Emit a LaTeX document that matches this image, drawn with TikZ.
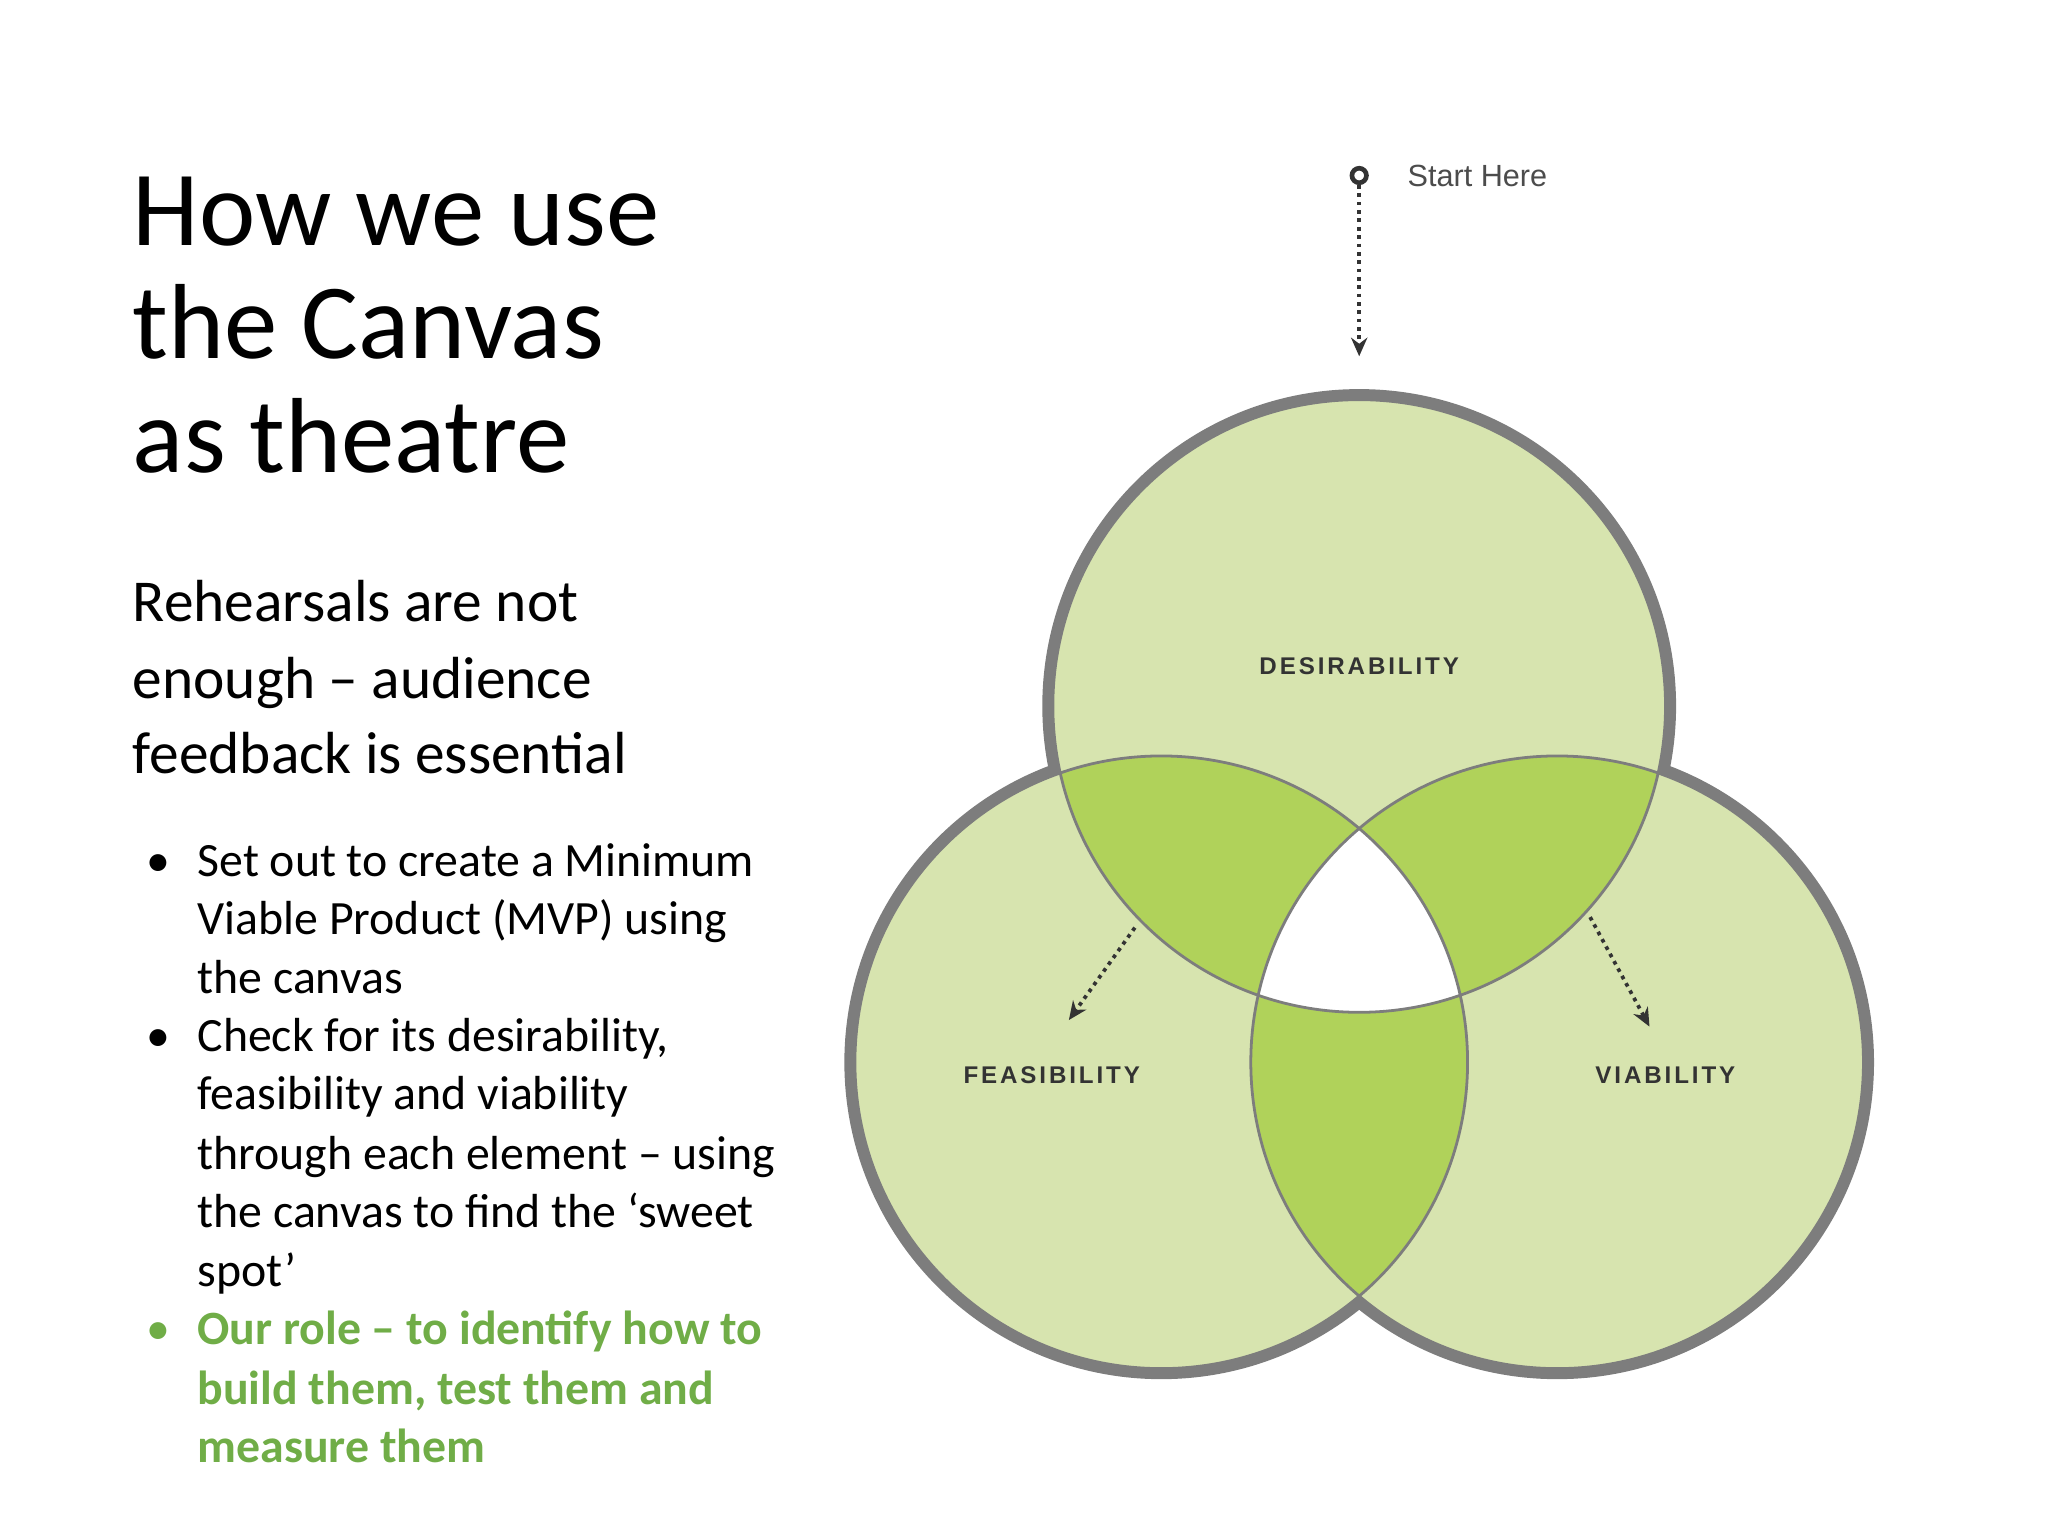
\documentclass[tikz,border=0pt]{standalone}
\usepackage{fontspec}
\setmainfont{Carlito}
\newfontfamily\lab[LetterSpace=12]{Liberation Sans Bold}
\newfontfamily\lsans{Liberation Sans}
\usetikzlibrary{arrows.meta}
\definecolor{lgreen}{RGB}{215,228,175}
\definecolor{dgreen}{RGB}{176,210,90}
\definecolor{ring}{RGB}{125,125,125}
\definecolor{tgreen}{RGB}{112,173,71}
\tikzset{
 txt/.style={anchor=base west,inner sep=0pt},
 title/.style={txt,font=\fontsize{23}{26}\selectfont},
 sub/.style={txt,font=\fontsize{12.8}{15}\selectfont},
 bul/.style={txt,font=\fontsize{10.3}{12}\selectfont},
 gbul/.style={bul,font=\fontsize{10.3}{12}\selectfont\bfseries,text=tgreen},
 lbl/.style={inner sep=0pt,font=\fontsize{5.2}{6}\lab,text=black!80},
 dots/.style={densely dotted,line width=0.8pt,-{Stealth[length=4pt,width=3.5pt]},black!80}
}
\begin{document}
\begin{tikzpicture}[x=0.01cm,y=-0.01cm]
\useasboundingbox (0,0) rectangle (1552,1164);
\coordinate (A) at (1030,535);
\coordinate (B) at (880,805);
\coordinate (C) at (1180,805);
\def\R{2.32cm}
\foreach \c in {A,B,C}{\draw[ring,line width=0.16cm] (\c) circle[radius=\R];}
\foreach \c in {A,B,C}{\fill[lgreen] (\c) circle[radius=\R];}
\begin{scope}\clip (A) circle[radius=\R]; \fill[dgreen] (B) circle[radius=\R]; \fill[dgreen] (C) circle[radius=\R];\end{scope}
\begin{scope}\clip (B) circle[radius=\R]; \fill[dgreen] (C) circle[radius=\R];\end{scope}
\begin{scope}\clip (A) circle[radius=\R]; \clip (B) circle[radius=\R]; \fill[white] (C) circle[radius=\R];\end{scope}
\foreach \c in {A,B,C}{\draw[ring,line width=0.6pt] (\c) circle[radius=\R];}
\node[lbl] (des) at (1030,505) {DESIRABILITY};
\node[lbl] (fea) at (797,815) {FEASIBILITY};
\node[lbl] (via) at (1262,815) {VIABILITY};
\node[circle,draw=black!80,line width=1pt,inner sep=0pt,minimum size=0.11cm] (st) at (1030,133) {};
\coordinate (sa) at (1030,270);
\draw[dots] (st) -- (sa);
\node[anchor=west,inner sep=0pt,font=\fontsize{6.6}{8}\lsans,text=black!70] (sh) at (1066,133) {Start Here};
\coordinate (l1) at (860,703); \coordinate (l2) at (810,773);
\coordinate (r1) at (1205,695); \coordinate (r2) at (1250,778);
\draw[dots] (l1) -- (l2);
\draw[dots] (r1) -- (r2);
\node[title] (t1) at (100,186) {How we use};
\node[title] (t2) at (100,272) {the Canvas};
\node[title] (t3) at (100,358) {as theatre};
\node[sub] (s1) at (100,471) {Rehearsals are not};
\node[sub] (s2) at (100,529) {enough -- audience};
\node[sub] (s3) at (100,586) {feedback is essential};
\foreach \y/\t [count=\i] in {664/Set out to create a Minimum,708/Viable Product (MVP) using,753/the canvas,797/{Check for its desirability,},841/feasibility and viability,886/through each element -- using,930/the canvas to find the ‘sweet,975/spot’}
  {\node[bul] (b\i) at (149,\y) {\t};}
\node[bul] (d1) at (110,664) {•};
\node[bul] (d2) at (110,797) {•};
\node[bul,text=tgreen] (d3) at (110,1019) {•};
\node[gbul] (g1) at (149,1019) {Our role -- to identify how to};
\node[gbul] (g2) at (149,1064) {build them, test them and};
\node[gbul] (g3) at (149,1108) {measure them};
\end{tikzpicture}
\end{document}
